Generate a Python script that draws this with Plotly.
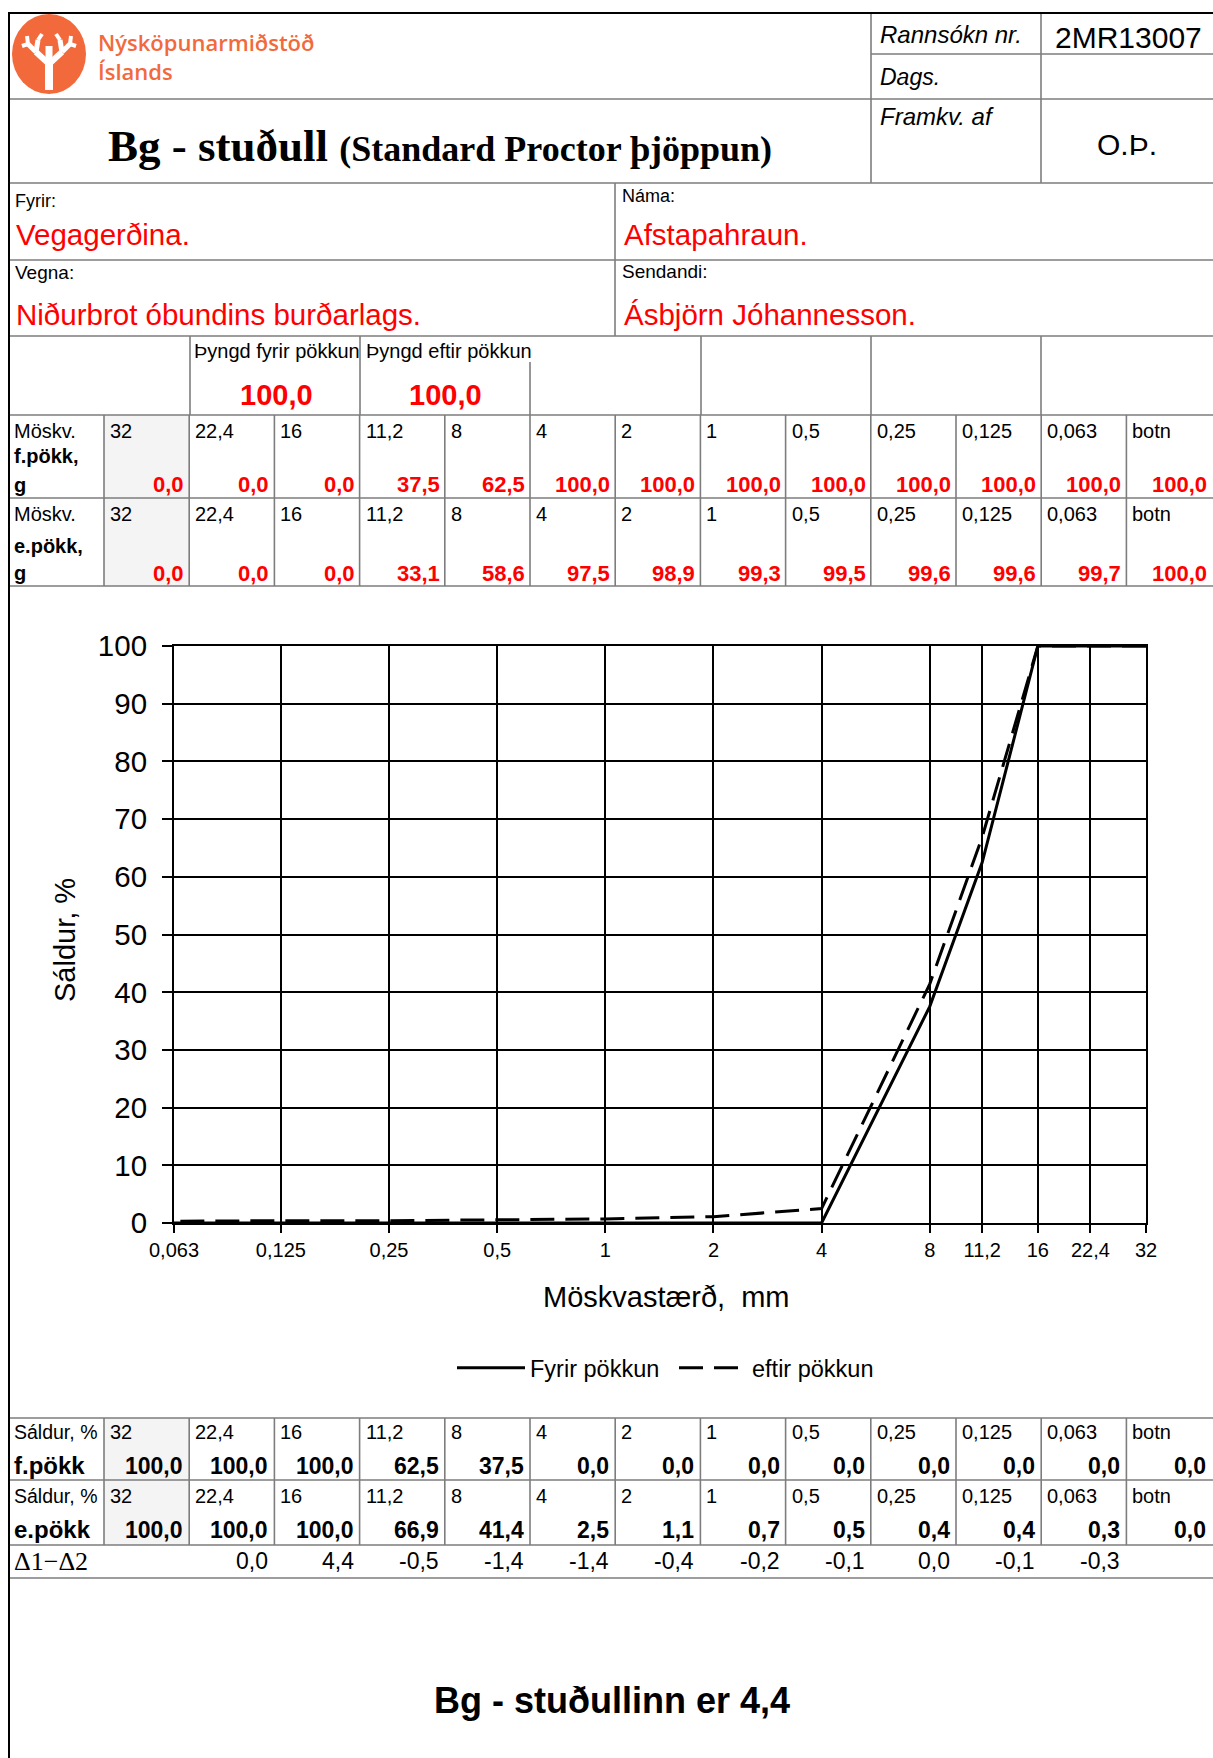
import math
import plotly.graph_objects as go

# ---------------- data ----------------
sieve_sizes = [32, 22.4, 16, 11.2, 8, 4, 2, 1, 0.5, 0.25, 0.125, 0.063]
sieve_labels = ["32", "22,4", "16", "11,2", "8", "4", "2", "1", "0,5", "0,25", "0,125", "0,063", "botn"]
retained_before_g = [0.0, 0.0, 0.0, 37.5, 62.5, 100.0, 100.0, 100.0, 100.0, 100.0, 100.0, 100.0, 100.0]
retained_after_g = [0.0, 0.0, 0.0, 33.1, 58.6, 97.5, 98.9, 99.3, 99.5, 99.6, 99.6, 99.7, 100.0]
passing_before = [100.0, 100.0, 100.0, 62.5, 37.5, 0.0, 0.0, 0.0, 0.0, 0.0, 0.0, 0.0, 0.0]
passing_after = [100.0, 100.0, 100.0, 66.9, 41.4, 2.5, 1.1, 0.7, 0.5, 0.4, 0.4, 0.3, 0.0]
delta_values = [0.0, 4.4, -0.5, -1.4, -1.4, -0.4, -0.2, -0.1, 0.0, -0.1, -0.3]
weight_before = 100.0
weight_after = 100.0
bg_factor = 4.4
series_names = ["Fyrir pökkun", "eftir pökkun"]

# ---------------- helpers ----------------
W, H = 1213, 1758
SANS = "Liberation Sans, Arial, sans-serif"
SERIF = "Liberation Serif, Times New Roman, serif"
RED = "#ff0000"
GRID = "#7d7d7d"

def fx(x):
    return x / W

def fy(y):
    return 1 - y / H

def fmt(v):
    return f"{v:.1f}".replace(".", ",")

shapes = []
annotations = []

def hline(y, x0=9, x1=W, color=GRID, width=1.6):
    shapes.append(dict(type="line", xref="paper", yref="paper", x0=fx(x0), x1=fx(x1),
                       y0=fy(y), y1=fy(y), line=dict(color=color, width=width), layer="above"))

def vline(x, y0, y1, color=GRID, width=1.6):
    shapes.append(dict(type="line", xref="paper", yref="paper", x0=fx(x), x1=fx(x),
                       y0=fy(y0), y1=fy(y1), line=dict(color=color, width=width), layer="above"))

def rect(x0, y0, x1, y1, fill, kind="rect"):
    shapes.append(dict(type=kind, xref="paper", yref="paper", x0=fx(x0), x1=fx(x1),
                       y0=fy(y0), y1=fy(y1), fillcolor=fill,
                       line=dict(width=0, color=fill), layer="below"))

def wline(x0, y0, x1, y1, width):
    shapes.append(dict(type="line", xref="paper", yref="paper", x0=fx(x0), x1=fx(x1),
                       y0=fy(y0), y1=fy(y1), line=dict(color="white", width=width), layer="above"))

def text(x, y, s, size, color="black", anchor="left", family=SANS, angle=0, weight="normal", style="normal"):
    annotations.append(dict(x=fx(x), y=fy(y), xref="paper", yref="paper", text=s, showarrow=False,
                            xanchor=anchor, yanchor="middle", textangle=angle,
                            font=dict(size=size, color=color, family=family, weight=weight, style=style)))

# ---------------- header ----------------
# logo
rect(12, 14, 86, 94, "#f26a3b", kind="circle")
wline(49, 90, 49, 60, 8)
wline(49, 64, 36, 52, 6)
wline(49, 64, 62, 52, 6)
wline(36, 52, 28, 44, 5)
wline(36, 52, 38, 40, 5)
wline(62, 52, 70, 44, 5)
wline(62, 52, 60, 40, 5)
wline(28, 44, 22, 46, 4)
wline(28, 44, 27, 36, 4)
wline(70, 44, 76, 46, 4)
wline(70, 44, 71, 36, 4)
wline(38, 40, 42, 34, 4)
wline(60, 40, 56, 34, 4)
wline(49, 60, 49, 46, 7)
text(96, 42, "Nýsköpunarmiðstöð", 22, color="#f26a3b", family="Open Sans, sans-serif", weight=600)
text(96, 71, "Íslands", 22, color="#f26a3b", family="Open Sans, sans-serif", weight=600)

text(878, 34, "Rannsókn nr.", 24, style="italic")
text(1128, 37, "2MR13007", 30, anchor="center")
text(878, 77, "Dags.", 23, style="italic")
text(878, 117, "Framkv. af", 24, style="italic")
text(1127, 144, "O.Þ.", 30, anchor="center")

text(440, 146, "<b>Bg - stuðull</b> <b><span style='font-size:36px'>(Standard Proctor þjöppun)</span></b>",
     45, anchor="center", family=SERIF)

text(13, 201, "Fyrir:", 18)
text(14, 235, "Vegagerðina.", 29.5, color=RED)
text(620, 196, "Náma:", 18)
text(622, 235, "Afstapahraun.", 29.5, color=RED)
text(13, 273, "Vegna:", 19)
text(14, 314, "Niðurbrot óbundins burðarlags.", 29.5, color=RED)
text(620, 271, "Sendandi:", 19)
text(622, 314, "Ásbjörn Jóhannesson.", 29.5, color=RED)

text(192, 351, "Þyngd fyrir pökkun", 20)
text(364, 351, "Þyngd eftir pökkun", 20)
text(276, 395, fmt(weight_before), 29, color=RED, anchor="center", weight="bold")
text(446, 395, fmt(weight_after), 29, color=RED, anchor="center", weight="bold")

# column geometry
edges = [104 + 85.2 * k for k in range(14)]

# shaded "32" cells
rect(edges[0], 415, edges[1], 586, "#f4f4f4")
rect(edges[0], 1418, edges[1], 1545, "#f4f4f4")

# top weight tables
for base, label2, vals in [(430.5, "f.pökk,", retained_before_g), (513.5, "e.pökk,", retained_after_g)]:
    first = base == 430.5
    text(12, base, "Möskv.", 20)
    text(12, base + (26 if first else 32), label2, 20, weight="bold")
    text(12, base + (54 if first else 60), "g", 20, weight="bold")
    for i, lab in enumerate(sieve_labels):
        text(edges[i] + 4, base, lab, 20)
        text(edges[i + 1] - 3, base + (54 if first else 60), fmt(vals[i]), 22,
             color=RED, anchor="right", weight="bold")

# bottom passing tables
for base, label2, vals in [(1431.5, "f.pökk", passing_before), (1495.5, "e.pökk", passing_after)]:
    text(12, base, "Sáldur, %", 19.5)
    text(12, base + 34, label2, 24, weight="bold")
    for i, lab in enumerate(sieve_labels):
        text(edges[i] + 4, base, lab, 20)
        text(edges[i + 1] - 4, base + 34, fmt(vals[i]), 23, anchor="right", weight="bold")

text(12, 1561, "Δ1−Δ2", 26, family=SERIF)
for i, v in enumerate(delta_values):
    text(edges[i + 2] - 4, 1561, fmt(v), 23, anchor="right")

text(612, 1700, f"<b>Bg - stuðullinn er {fmt(bg_factor)}</b>", 36, anchor="center")

# ---------------- grid lines of the form ----------------
vline(871, 13, 183)
vline(1041, 13, 183)
hline(54, 871, W)
hline(99)
hline(183)
vline(615, 183, 336)
hline(260)
hline(336)
for x in [190, 360, 701, 871, 1041]:
    vline(x, 336, 415)
vline(530, 362, 415)
hline(415)
hline(498)
hline(586)
for x in edges[:-1]:
    vline(x, 415, 586)
hline(1418)
hline(1480)
hline(1545)
hline(1578)
for x in edges[:-1]:
    vline(x, 1418, 1545)

# outer border
vline(9, 12, H, color="black", width=2)
hline(13, 9, W, color="black", width=2)

# ---------------- chart ----------------
fig = go.Figure()
fig.add_trace(go.Scatter(x=sieve_sizes, y=passing_before[:12], mode="lines", name=series_names[0],
                         line=dict(color="black", width=3)))
fig.add_trace(go.Scatter(x=sieve_sizes, y=passing_after[:12], mode="lines", name=series_names[1],
                         line=dict(color="black", width=3, dash="24px,11px")))

x0p, x1p = 174, 1146
y0p, y1p = 646, 1223

fig.update_layout(
    width=W, height=H, autosize=False,
    margin=dict(l=0, r=0, t=0, b=0, pad=0, autoexpand=False),
    paper_bgcolor="white", plot_bgcolor="white",
    font=dict(family=SANS, color="black"),
    shapes=shapes, annotations=annotations,
    showlegend=True,
    legend=dict(orientation="h", x=fx(452), y=fy(1368), xanchor="left", yanchor="middle",
                font=dict(size=23.5, family=SANS), itemwidth=68, bgcolor="rgba(0,0,0,0)",
                traceorder="normal", entrywidth=139, entrywidthmode="pixels"),
    xaxis=dict(type="log", domain=[fx(x0p), fx(x1p)], automargin=False,
               range=[math.log10(0.063), math.log10(32)],
               tickvals=sieve_sizes, ticktext=sieve_labels[:12],
               showgrid=True, gridcolor="black", gridwidth=2,
               showline=True, linecolor="black", linewidth=2, mirror=True,
               ticks="outside", ticklen=8, tickwidth=2, tickcolor="black",
               tickfont=dict(size=20), zeroline=False),
    yaxis=dict(domain=[fy(y1p), fy(y0p)], range=[0, 100], tickmode="linear", tick0=0, dtick=10,
               automargin=False,
               showgrid=True, gridcolor="black", gridwidth=2,
               showline=True, linecolor="black", linewidth=2, mirror=True,
               ticks="outside", ticklen=10, tickwidth=2, tickcolor="black",
               tickfont=dict(size=29.5), ticklabelstandoff=9, zeroline=False),
)

fig.add_annotation(x=fx(65), y=fy(940), xref="paper", yref="paper", text="Sáldur, %", showarrow=False,
                   textangle=-90, font=dict(size=29, family=SANS), xanchor="center", yanchor="middle")
fig.add_annotation(x=fx(666), y=fy(1297), xref="paper", yref="paper", text="Möskvastærð,  mm",
                   showarrow=False, font=dict(size=29, family=SANS), xanchor="center", yanchor="middle")

fig.write_html("out.html", config={"displayModeBar": False},
               post_script="document.body.style.margin='0';document.body.style.overflow='hidden';")
